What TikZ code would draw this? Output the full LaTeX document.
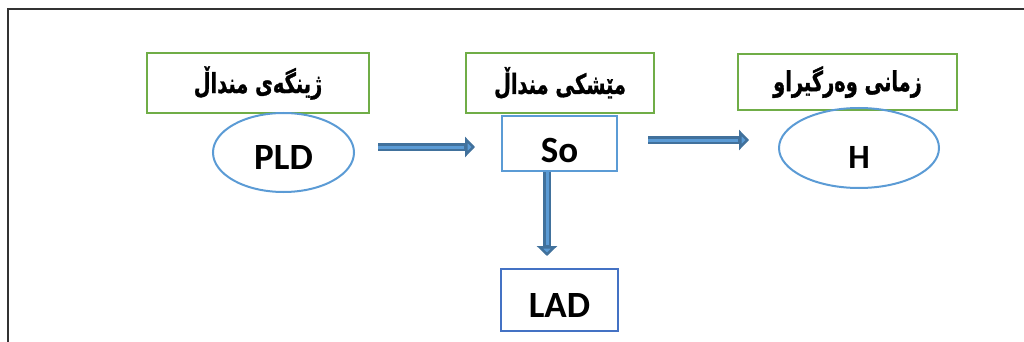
\documentclass[tikz,border=0pt]{standalone}
\usepackage{fontspec}
\usepackage{graphicx}
\setmainfont{Carlito}
\newfontfamily\arabicfont[Script=Arabic, BoldFeatures={FakeBold=1.2}]{DejaVu Sans}
\TeXXeTstate=1
\usetikzlibrary{arrows.meta,shapes.geometric}
\definecolor{boxgreen}{HTML}{70AD47}
\definecolor{ellblue}{HTML}{5B9BD5}
\definecolor{ladblue}{HTML}{4472C4}
\definecolor{arrdark}{HTML}{41719C}
\definecolor{arrlight}{HTML}{5B9BD5}
\newcommand{\lowtext}[2]{\raisebox{#1}[0pt][0pt]{#2}}
\newcommand{\artext}[1]{\scalebox{1.02}[1.45]{\arabicfont\bfseries\beginR #1\endR}}
\tikzset{
  greenbox/.style={draw=boxgreen, line width=2.5pt, minimum width=#1, minimum height=58pt, inner sep=0pt,
     font=\fontsize{19}{22}\selectfont},
  ell/.style={ellipse, draw=ellblue, line width=2pt, inner sep=0pt, font=\bfseries\fontsize{37}{40}\selectfont},
  sqbox/.style={rectangle, draw=#1, line width=2pt, inner sep=0pt, font=\bfseries\fontsize{37}{40}\selectfont},
  arrout/.style={draw=arrdark, line width=8pt, -{Triangle[length=10pt,width=20pt,fill=arrlight]}},
  arrin/.style={draw=arrlight, line width=3pt, shorten >=11pt},
  frameline/.style={draw=black!80, line width=2.2pt},
}
\begin{document}
\begin{tikzpicture}[x=1pt,y=-1pt]
\useasboundingbox (0,0) rectangle (1024,342);
\coordinate (fbl) at (8,342);
\coordinate (ftl) at (8,9);
\coordinate (ftr) at (1024,9);
\draw[frameline] (fbl) -- (ftl) -- (ftr);

\node[greenbox=222pt, minimum height=60pt] (b1) at (258,83) {\artext{ژینگەی منداڵ}};
\node[greenbox=188pt, minimum height=60pt] (b2) at (560,83) {\artext{مێشکی منداڵ}};
\node[greenbox=219pt, minimum height=56pt] (b3) at (847.5,82) {\artext{زمانی وەرگیراو}};

\node[ell, minimum width=141pt, minimum height=79pt] (pld) at (283.5,152.5) {\lowtext{-17pt}{PLD}};
\node[sqbox=ellblue, minimum width=115pt, minimum height=55pt] (so) at (559.5,143.5) {\lowtext{-18.5pt}{So}};
\node[ell, minimum width=160pt, minimum height=80pt, font=\bfseries\fontsize{34}{37}\selectfont] (h) at (859,148) {\lowtext{-20pt}{H}};
\node[sqbox=ladblue, minimum width=117pt, minimum height=62pt] (lad) at (559.5,300) {\lowtext{-17pt}{LAD}};

\draw[arrout] ([shift={(23,-5.5)}]pld.east) -- ([shift={(-26,3.5)}]so.west);
\draw[arrin] ([shift={(23,-5.5)}]pld.east) -- ([shift={(-26,3.5)}]so.west);
\draw[arrout] ([shift={(30,-3.5)}]so.east) -- ([shift={(-29,-8)}]h.west);
\draw[arrin] ([shift={(30,-3.5)}]so.east) -- ([shift={(-29,-8)}]h.west);
\draw[arrout] ([shift={(-12.5,0)}]so.south) -- ([shift={(-12.5,-12)}]lad.north);
\draw[arrin] ([shift={(-12.5,0)}]so.south) -- ([shift={(-12.5,-12)}]lad.north);
\end{tikzpicture}
\end{document}
